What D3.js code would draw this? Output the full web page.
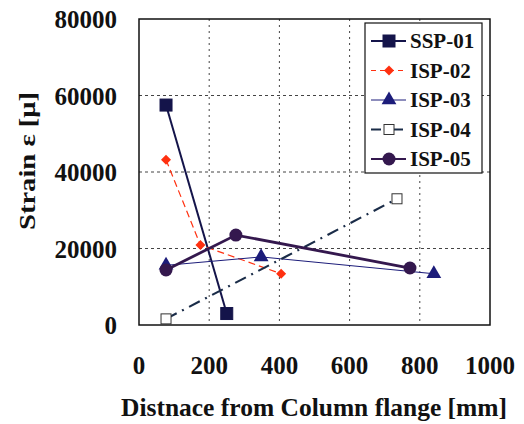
<!DOCTYPE html>
<html>
<head>
<meta charset="utf-8">
<script src="https://cdn.jsdelivr.net/npm/d3@7"></script>
<style>
  body { margin: 0; background: #fff; }
  text { font-family: "Liberation Serif", "Times New Roman", serif; font-weight: bold; fill: #111; }
</style>
</head>
<body>
<div id="chart"></div>
<script>
// values
var seriesNames = ["SSP-01", "ISP-02", "ISP-03", "ISP-04", "ISP-05"];
var ssp01 = [[77, 57500], [250, 3000]];
var isp02 = [[77, 43200], [175, 20900], [405, 13400]];
var isp03 = [[77, 15600], [348, 17800], [840, 13400]];
var isp04 = [[77, 1600], [735, 33000]];
var isp05 = [[77, 14400], [276, 23500], [772, 14900]];
var xTicks = [0, 200, 400, 600, 800, 1000];
var yTicks = [0, 20000, 40000, 60000, 80000];

var styles = {
    "SSP-01": { color: "#14144a", width: 2, dash: null, marker: "square", fill: "#14144a" },
    "ISP-02": { color: "#ff3010", width: 1.2, dash: "7,4", marker: "diamond", fill: "#ff3010" },
    "ISP-03": { color: "#1c1c7a", width: 1, dash: null, marker: "triangle", fill: "#1c1c7a" },
    "ISP-04": { color: "#1a2c48", width: 2.2, dash: "12,6,2,6", marker: "open", fill: "#fff" },
    "ISP-05": { color: "#34184e", width: 2.8, dash: null, marker: "circle", fill: "#34184e" }
};
var allData = [ssp01, isp02, isp03, isp04, isp05];

var W = 524, H = 424;
var plot = { left: 139, right: 490, top: 19, bottom: 325 };

var svg = d3.select("#chart").append("svg")
    .attr("width", W).attr("height", H);

var x = d3.scaleLinear().domain([0, 1000]).range([plot.left, plot.right]);
var y = d3.scaleLinear().domain([0, 80000]).range([plot.bottom, plot.top]);

// grid
svg.append("g").selectAll("line").data(xTicks.slice(1, -1)).enter()
    .append("line")
    .attr("x1", function(d) { return x(d); }).attr("x2", function(d) { return x(d); })
    .attr("y1", plot.top).attr("y2", plot.bottom)
    .attr("stroke", "#444").attr("stroke-width", 1).attr("stroke-dasharray", "2,4");
svg.append("g").selectAll("line").data(yTicks.slice(1, -1)).enter()
    .append("line")
    .attr("x1", plot.left).attr("x2", plot.right)
    .attr("y1", function(d) { return y(d); }).attr("y2", function(d) { return y(d); })
    .attr("stroke", "#444").attr("stroke-width", 1).attr("stroke-dasharray", "3,3");

// frame
svg.append("rect")
    .attr("x", plot.left).attr("y", plot.top)
    .attr("width", plot.right - plot.left).attr("height", plot.bottom - plot.top)
    .attr("fill", "none").attr("stroke", "#111").attr("stroke-width", 1.5);

// tick labels
svg.append("g").selectAll("text").data(xTicks).enter()
    .append("text")
    .attr("x", function(d) { return x(d); })
    .attr("y", 374)
    .attr("text-anchor", "middle")
    .attr("font-size", 25)
    .text(function(d) { return d; });
svg.append("g").selectAll("text").data(yTicks).enter()
    .append("text")
    .attr("x", 117)
    .attr("y", function(d) { return y(d) + 9; })
    .attr("text-anchor", "end")
    .attr("font-size", 25)
    .text(function(d) { return d; });

// axis titles
svg.append("text")
    .attr("x", 314).attr("y", 416)
    .attr("text-anchor", "middle")
    .attr("font-size", 25)
    .attr("textLength", 386).attr("lengthAdjust", "spacingAndGlyphs")
    .text("Distnace from Column flange [mm]");
svg.append("text")
    .attr("transform", "translate(35,161) rotate(-90)")
    .attr("text-anchor", "middle")
    .attr("font-size", 23)
    .attr("textLength", 138).attr("lengthAdjust", "spacingAndGlyphs")
    .text("Strain ε [μ]");

function drawMarker(g, type, cx, cy, s) {
    var st = styles[s];
    if (type === "square" || type === "open") {
        var r = type === "open" ? 5 : 6;
        g.append("rect")
            .attr("x", cx - r).attr("y", cy - r)
            .attr("width", 2 * r).attr("height", 2 * r)
            .attr("fill", st.fill)
            .attr("stroke", type === "open" ? "#333" : st.color)
            .attr("stroke-width", 1);
    } else if (type === "diamond") {
        // rotated square, as in the original marker
        g.append("path")
            .attr("d", d3.symbol().type(d3.symbolSquare).size(50)())
            .attr("transform", "translate(" + cx + "," + cy + ") rotate(45)")
            .attr("fill", st.fill);
    } else if (type === "triangle") {
        g.append("path")
            .attr("d", d3.symbol().type(d3.symbolTriangle).size(95)())
            .attr("transform", "translate(" + cx + "," + cy + ")")
            .attr("fill", st.fill);
    } else {
        g.append("circle")
            .attr("cx", cx).attr("cy", cy).attr("r", 6.5)
            .attr("fill", st.fill);
    }
}

var line = d3.line()
    .x(function(d) { return x(d[0]); })
    .y(function(d) { return y(d[1]); });

// series
seriesNames.forEach(function(name, i) {
    var st = styles[name];
    var g = svg.append("g").attr("class", "series");
    g.append("path")
        .datum(allData[i])
        .attr("d", line)
        .attr("fill", "none")
        .attr("stroke", st.color)
        .attr("stroke-width", st.width)
        .attr("stroke-dasharray", st.dash);
    allData[i].forEach(function(d) {
        drawMarker(g, st.marker, x(d[0]), y(d[1]), name);
    });
});

// legend
var legend = svg.append("g");
legend.append("rect")
    .attr("x", 365).attr("y", 23).attr("width", 117).attr("height", 150)
    .attr("fill", "#fff").attr("stroke", "#111").attr("stroke-width", 1.2);
seriesNames.forEach(function(name, i) {
    var st = styles[name];
    var cy = 41 + i * 29.5;
    legend.append("line")
        .attr("x1", 371).attr("x2", 406)
        .attr("y1", cy).attr("y2", cy)
        .attr("stroke", st.color)
        .attr("stroke-width", Math.min(st.width, 2))
        .attr("stroke-dasharray", name === "ISP-02" ? "5,4" : (name === "ISP-04" ? "10,5,2,5" : null));
    drawMarker(legend, st.marker, 389, cy, name);
    legend.append("text")
        .attr("x", 410).attr("y", cy + 7)
        .attr("font-size", 21)
        .text(name);
});
</script>
</body>
</html>
